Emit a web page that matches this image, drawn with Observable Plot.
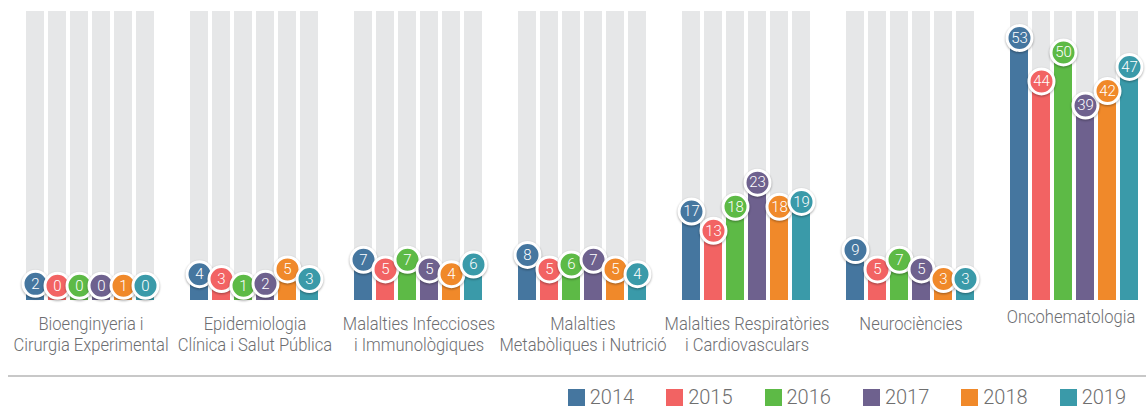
<!DOCTYPE html>
<html>
<head>
<meta charset="utf-8">
<script src="https://cdn.jsdelivr.net/npm/d3@7"></script>
<script src="https://cdn.jsdelivr.net/npm/@observablehq/plot@0.6"></script>
<style>
  html, body { margin: 0; padding: 0; background: #fff; }
  body { width: 1146px; height: 415px; overflow: hidden; position: relative; font-family: Roboto, "Liberation Sans", sans-serif; }
  #chart svg { display: block; }
  .rule { position: absolute; left: 8px; right: 0; top: 375px; height: 2px; background: #c8c8c8; }
  .legend { position: absolute; top: 387px; right: 20px; display: flex; align-items: center; gap: 32px; }
  .item { display: flex; align-items: center; }
  .sw { width: 17px; height: 17px; margin-right: 5px; }
  .lab { font-family: Roboto, "Liberation Sans", sans-serif; font-weight: 300; font-size: 20px; line-height: 20px; color: #6f6f6f; }
</style>
</head>
<body>
<div id="chart"></div>
<div class="rule"></div>
<div class="legend" id="legend"></div>
<script>
// Categories (group labels, with line breaks)
const categories = [
  "Bioenginyeria i\nCirurgia Experimental",
  "Epidemiologia\nClínica i Salut Pública",
  "Malalties Infeccioses\ni Immunològiques",
  "Malalties\nMetabòliques i Nutrició",
  "Malalties Respiratòries\ni Cardiovasculars",
  "Neurociències",
  "Oncohematologia"
];

const years = ["2014", "2015", "2016", "2017", "2018", "2019"];
const colors = ["#45769f", "#f26363", "#5dba46", "#6e618e", "#f0892a", "#3a9aa9"];

// Series values (one array per year, in category order)
const v2014 = [2, 4, 7, 8, 17, 9, 53];
const v2015 = [0, 3, 5, 5, 13, 5, 44];
const v2016 = [0, 1, 7, 6, 18, 7, 50];
const v2017 = [0, 2, 5, 7, 23, 5, 39];
const v2018 = [1, 5, 4, 5, 18, 3, 42];
const v2019 = [0, 3, 6, 4, 19, 3, 47];
const series = [v2014, v2015, v2016, v2017, v2018, v2019];

const bgMax = 58.5;   // height of the grey background columns (value units)
const minDot = 1.6;   // lowest value at which a label bubble sits

const data = [];
categories.forEach((c, i) => {
  years.forEach((y, j) => data.push({cat: c, year: y, value: series[j][i]}));
});
const bg = data.map(d => ({cat: d.cat, year: d.year, value: bgMax}));

const labelFont = "Roboto, 'Liberation Sans', sans-serif";
const labelColor = "#6d6e71";

const chart = Plot.plot({
  width: 1146,
  height: 370,
  marginTop: 11,
  marginBottom: 77,
  marginLeft: 23,
  marginRight: 5,
  style: {fontFamily: "Roboto, 'Liberation Sans', sans-serif", background: "#fff"},
  fx: {domain: categories, paddingInner: 0.215, paddingOuter: 0, axis: null, label: null},
  x: {domain: years, paddingInner: 0.18, paddingOuter: 0, axis: null},
  y: {domain: [0, bgMax], axis: null},
  color: {domain: years, range: colors},
  marks: [
    Plot.barY(bg, {fx: "cat", x: "year", y: "value", fill: "#e6e7e8", insetBottom: -7}),
    Plot.barY(data, {fx: "cat", x: "year", y: "value", fill: "year", insetBottom: -7}),
    Plot.dot(data, {fx: "cat", x: "year", y: d => Math.max(d.value, minDot), fill: "year", r: 12.5, stroke: "white", strokeWidth: 3}),
    Plot.text(data, {fx: "cat", x: "year", y: d => Math.max(d.value, minDot), text: d => String(d.value), fill: "white", fontSize: 15, fontWeight: 300}),
    Plot.text(categories.filter(c => c !== "Oncohematologia"), {fx: d => d, text: d => d, frameAnchor: "bottom", lineAnchor: "top", dy: 22, lineHeight: 1.14, fontSize: 18, fontWeight: 300, fontFamily: labelFont, fill: labelColor}),
    Plot.text(categories.filter(c => c === "Oncohematologia"), {fx: d => d, text: d => d, frameAnchor: "bottom", lineAnchor: "top", dx: -4, dy: 15, lineHeight: 1.14, fontSize: 18, fontWeight: 300, fontFamily: labelFont, fill: labelColor})
  ]
});
d3.select(chart).selectAll("circle").style("filter", "drop-shadow(0px 1px 1.2px rgba(0,0,0,0.35))");
document.getElementById("chart").appendChild(chart);

// condense the group labels slightly (the reference uses a condensed face)
d3.select(chart).selectAll(`g[fill="${labelColor}"] text`).each(function() {
  const spans = this.querySelectorAll("tspan");
  const targets = spans.length ? Array.from(spans) : [this];
  targets.forEach(el => {
    const L = el.getComputedTextLength();
    el.setAttribute("textLength", (L * 0.92).toFixed(1));
    el.setAttribute("lengthAdjust", "spacingAndGlyphs");
  });
});

const legend = d3.select("#legend");
years.forEach((y, i) => {
  const it = legend.append("div").attr("class", "item");
  it.append("div").attr("class", "sw").style("background", colors[i]);
  it.append("div").attr("class", "lab").text(y);
});
</script>
</body>
</html>
